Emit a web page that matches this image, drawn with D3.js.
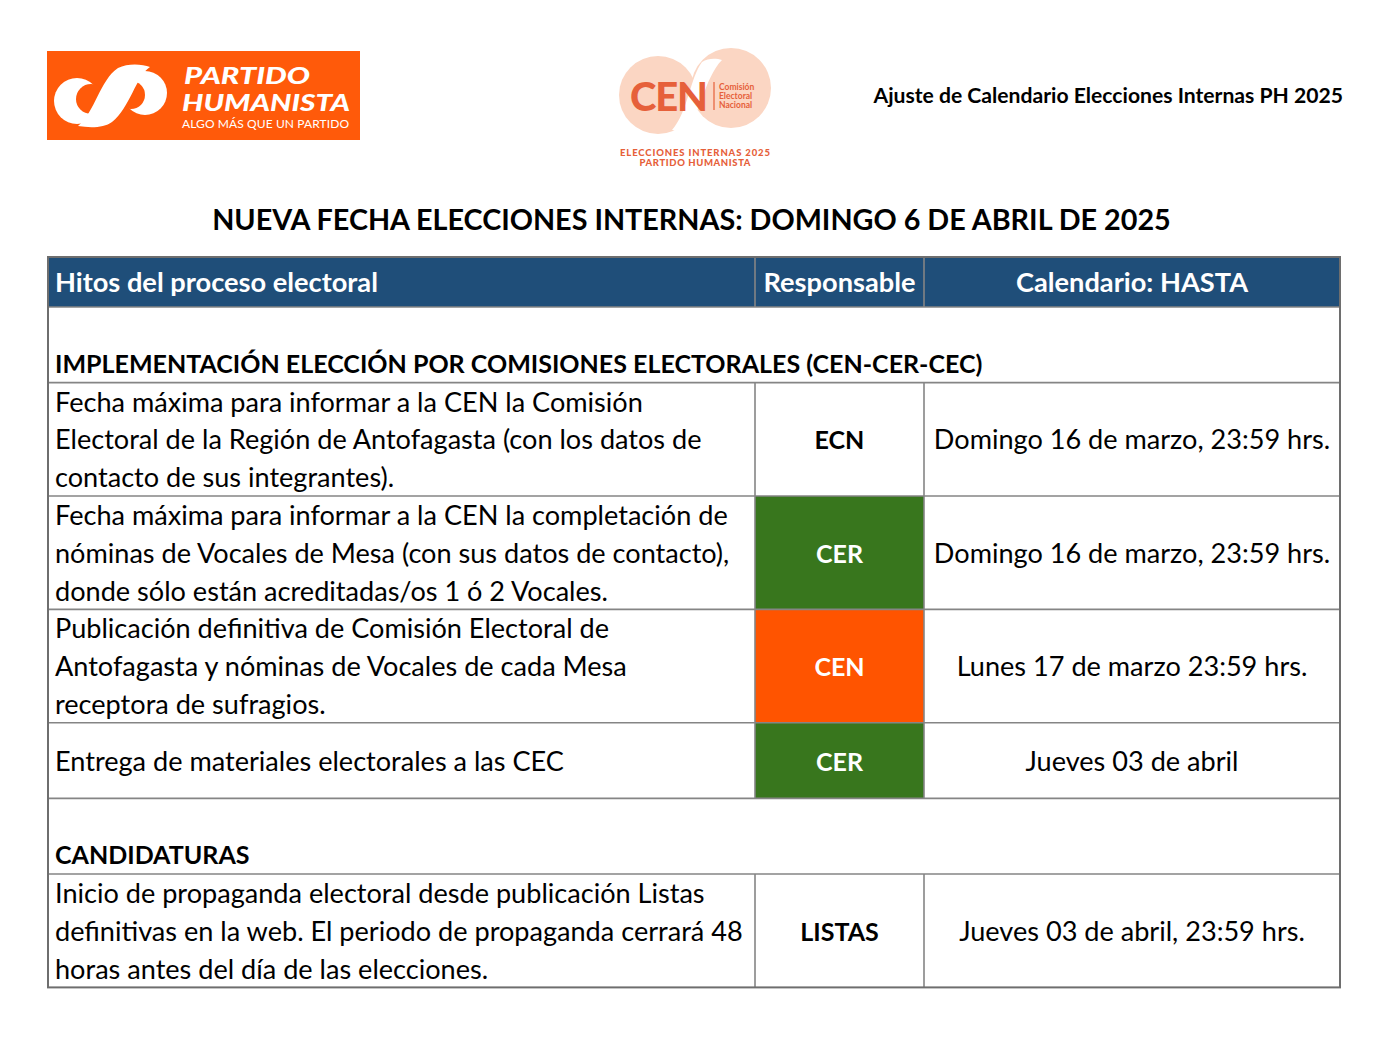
<!DOCTYPE html>
<html>
<head>
<meta charset="utf-8">
<script src="https://cdn.jsdelivr.net/npm/d3@7"></script>
<style>
  html, body { margin: 0; padding: 0; background: #fff; }
  svg { display: block; }
  text { font-family: Lato, "Open Sans", sans-serif; }
</style>
</head>
<body>
<div id="page"></div>
<script>
// ---- datos de la tabla ----
const headers = ["Hitos del proceso electoral", "Responsable", "Calendario: HASTA"];
const sectionTitles = [
  "IMPLEMENTACIÓN ELECCIÓN POR COMISIONES ELECTORALES (CEN-CER-CEC)",
  "CANDIDATURAS"
];
const hitoSection = [0, 0, 0, 0, 1];
const hitoLines = [
  ["Fecha máxima para informar a la CEN la Comisión",
   "Electoral de la Región de Antofagasta (con los datos de",
   "contacto de sus integrantes)."],
  ["Fecha máxima para informar a la CEN la completación de",
   "nóminas de Vocales de Mesa (con sus datos de contacto),",
   "donde sólo están acreditadas/os 1 ó 2 Vocales."],
  ["Publicación definitiva de Comisión Electoral de",
   "Antofagasta y nóminas de Vocales de cada Mesa",
   "receptora de sufragios."],
  ["Entrega de materiales electorales a las CEC"],
  ["Inicio de propaganda electoral desde publicación Listas",
   "definitivas en la web. El periodo de propaganda cerrará 48",
   "horas antes del día de las elecciones."]
];
const responsables = ["ECN", "CER", "CEN", "CER", "LISTAS"];
const calendario = [
  "Domingo 16 de marzo, 23:59 hrs.",
  "Domingo 16 de marzo, 23:59 hrs.",
  "Lunes 17 de marzo 23:59 hrs.",
  "Jueves 03 de abril",
  "Jueves 03 de abril, 23:59 hrs."
];
const titulo = "NUEVA FECHA ELECCIONES INTERNAS: DOMINGO 6 DE ABRIL DE 2025";
const subtitulo = "Ajuste de Calendario Elecciones Internas PH 2025";

// ---- estilo ----
const C = {
  head: "#1f4e79", grid: "#858585", border: "#6e6e6e",
  orange: "#ff5400", green: "#38761d", logo: "#ff5a0a",
  peach: "#fbd6c3", cen: "#e6603a"
};
const respFill = { CER: C.green, CEN: C.orange };

const W = 1394, H = 1037;
const svg = d3.select("#page").append("svg").attr("width", W).attr("height", H);

// calibra tamaño de fuente para aproximar el ancho de Calibri
function fit(sample, target, weight) {
  const t = svg.append("text").attr("font-size", 100).attr("font-weight", weight).text(sample);
  const w = t.node().getComputedTextLength();
  t.remove();
  return 100 * target / w;
}
const fsBody = fit(hitoLines[1][0], 673, 400);
const fsBold = fit(sectionTitles[0], 928, 700);
const fsHead = fit(headers[0], 323, 700);
const fsTitle = fit(titulo, 959, 700);
const fsSub = fit(subtitulo, 470, 700);

// ---- logo Partido Humanista ----
const ph = svg.append("g");
ph.append("rect").attr("x", 47).attr("y", 51).attr("width", 313).attr("height", 89).attr("fill", C.logo);
ph.append("circle").attr("cx", 77).attr("cy", 101).attr("r", 23).attr("fill", "#fff");
ph.append("circle").attr("cx", 91).attr("cy", 99).attr("r", 15).attr("fill", C.logo);
ph.append("circle").attr("cx", 145).attr("cy", 93).attr("r", 22).attr("fill", "#fff");
ph.append("circle").attr("cx", 131).attr("cy", 95).attr("r", 14).attr("fill", C.logo);
ph.append("path").attr("fill", "#fff")
  .attr("d", "M78,126 C95,112 100,80 118,68 C128,63 142,64 150,67 C136,76 130,108 112,122 C104,128 90,128 78,126 Z");
ph.append("text").attr("x", 184).attr("y", 84).attr("fill", "#fff").attr("font-weight", 900)
  .attr("font-style", "italic").attr("font-size", 23).attr("textLength", 126)
  .attr("lengthAdjust", "spacingAndGlyphs").text("PARTIDO");
ph.append("text").attr("x", 182).attr("y", 111).attr("fill", "#fff").attr("font-weight", 900)
  .attr("font-style", "italic").attr("font-size", 23).attr("textLength", 168)
  .attr("lengthAdjust", "spacingAndGlyphs").text("HUMANISTA");
ph.append("text").attr("x", 182).attr("y", 128).attr("fill", "#fff")
  .attr("font-size", 12).attr("textLength", 167).text("ALGO MÁS QUE UN PARTIDO");

// ---- logo CEN ----
const cen = svg.append("g");
cen.append("circle").attr("cx", 658).attr("cy", 95).attr("r", 39).attr("fill", C.peach);
cen.append("circle").attr("cx", 731).attr("cy", 88).attr("r", 40).attr("fill", C.peach);
cen.append("path").attr("fill", "#fff")
  .attr("d", "M684,132 C700,118 704,78 722,60 C716,58 708,58 702,62 C690,78 688,112 672,130 Z");
cen.append("text").attr("x", 630).attr("y", 111).attr("fill", C.cen).attr("font-weight", 900)
  .attr("font-size", 40).attr("textLength", 78).text("CEN");
cen.append("line").attr("x1", 714).attr("x2", 714).attr("y1", 82).attr("y2", 110)
  .attr("stroke", C.cen).attr("stroke-width", 1.2);
["Comisión", "Electoral", "Nacional"].forEach((s, i) =>
  cen.append("text").attr("x", 719).attr("y", 90 + i * 9).attr("fill", C.cen)
    .attr("font-weight", 700).attr("font-size", 8.5).text(s));
cen.append("text").attr("x", 695).attr("y", 156).attr("text-anchor", "middle").attr("fill", C.cen)
  .attr("font-weight", 900).attr("font-size", 9.5).attr("textLength", 150).text("ELECCIONES INTERNAS 2025");
cen.append("text").attr("x", 695).attr("y", 166).attr("text-anchor", "middle").attr("fill", C.cen)
  .attr("font-weight", 900).attr("font-size", 9.5).attr("textLength", 111).text("PARTIDO HUMANISTA");

// ---- títulos ----
svg.append("text").attr("x", 1343).attr("y", 103).attr("text-anchor", "end")
  .attr("font-weight", 700).attr("font-size", fsSub).text(subtitulo);
svg.append("text").attr("x", 691.5).attr("y", 230).attr("text-anchor", "middle")
  .attr("font-weight", 700).attr("font-size", fsTitle).text(titulo);

// ---- tabla ----
const colX = [48, 755, 924, 1340];
const tTop = 257, headH = 50, lineH = 37.8;

// filas: sección + hitos
const rows = [];
sectionTitles.forEach((s, si) => {
  rows.push({ type: "section", text: s, n: 2 });
  hitoSection.forEach((sec, i) => {
    if (sec === si) rows.push({ type: "hito", i, n: hitoLines[i].length });
  });
});
let yy = tTop + headH;
rows.forEach((r) => { r.y = yy; r.h = Math.max(2, r.n) * lineH; yy += r.h; });
const tBottom = yy;

const tbl = svg.append("g");
// cabecera
tbl.append("rect").attr("x", colX[0]).attr("y", tTop).attr("width", colX[3] - colX[0])
  .attr("height", headH).attr("fill", C.head);
headers.forEach((hd, j) => {
  const t = tbl.append("text").attr("y", tTop + headH / 2 + 10).attr("fill", "#fff")
    .attr("font-weight", 700).attr("font-size", fsHead).text(hd);
  if (j === 0) t.attr("x", colX[0] + 7);
  else t.attr("x", (colX[j] + colX[j + 1]) / 2).attr("text-anchor", "middle");
});

// celdas de color
rows.filter((r) => r.type === "hito").forEach((r) => {
  const f = respFill[responsables[r.i]];
  if (f) tbl.append("rect").attr("x", colX[1]).attr("y", r.y).attr("width", colX[2] - colX[1])
    .attr("height", r.h).attr("fill", f);
});

// textos
rows.forEach((r) => {
  if (r.type === "section") {
    tbl.append("text").attr("x", colX[0] + 7).attr("y", r.y + r.h - 10)
      .attr("font-weight", 700).attr("font-size", fsBold).text(r.text);
    return;
  }
  const mid = r.y + r.h / 2;
  const lines = hitoLines[r.i];
  const y0 = mid - (lines.length - 1) * lineH / 2 + 10;
  lines.forEach((l, k) =>
    tbl.append("text").attr("x", colX[0] + 7).attr("y", y0 + k * lineH)
      .attr("font-size", fsBody).text(l));
  const resp = responsables[r.i];
  tbl.append("text").attr("x", (colX[1] + colX[2]) / 2).attr("y", mid + 10)
    .attr("text-anchor", "middle").attr("font-weight", 700).attr("font-size", fsBold)
    .attr("fill", respFill[resp] ? "#fff" : "#000").text(resp);
  tbl.append("text").attr("x", (colX[2] + colX[3]) / 2).attr("y", mid + 10)
    .attr("text-anchor", "middle").attr("font-size", fsBody).text(calendario[r.i]);
});

// rejilla
const gl = tbl.append("g").attr("stroke", C.grid).attr("stroke-width", 1.6);
rows.forEach((r) => {
  gl.append("line").attr("x1", colX[0]).attr("x2", colX[3]).attr("y1", r.y).attr("y2", r.y);
  if (r.type === "hito") [1, 2].forEach((j) =>
    gl.append("line").attr("x1", colX[j]).attr("x2", colX[j]).attr("y1", r.y).attr("y2", r.y + r.h));
});
[1, 2].forEach((j) =>
  gl.append("line").attr("x1", colX[j]).attr("x2", colX[j]).attr("y1", tTop).attr("y2", tTop + headH));
tbl.append("rect").attr("x", colX[0]).attr("y", tTop).attr("width", colX[3] - colX[0])
  .attr("height", tBottom - tTop).attr("fill", "none").attr("stroke", C.border).attr("stroke-width", 2);
</script>
</body>
</html>
